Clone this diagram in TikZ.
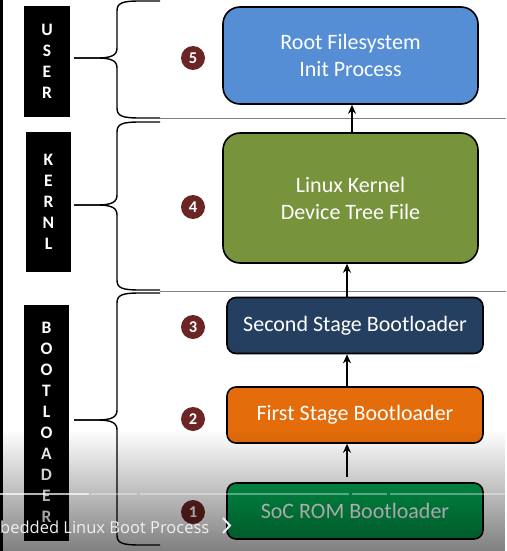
\documentclass[tikz,border=0pt]{standalone}
\usepackage{fontspec}
\setmainfont{Carlito}
\newfontfamily\captionfont{Open Sans}
\usetikzlibrary{arrows.meta,fadings}

\definecolor{userblue}{HTML}{558ED5}
\definecolor{kernelgreen}{HTML}{77933C}
\definecolor{secondnavy}{HTML}{243F60}
\definecolor{firstorange}{HTML}{E46C0A}
\definecolor{socgreen}{HTML}{00A650}
\definecolor{stepred}{HTML}{6B2525}
\definecolor{layergray}{HTML}{808080}

\tikzfading[name=fadeup, top color=transparent!100, bottom color=transparent!0]

\begin{document}
\begin{tikzpicture}[x=1pt, y=-1pt,
  stage/.style={draw=black, line width=1.6pt, text=white, align=center, font=\fontsize{22}{27}\selectfont},
  bigstage/.style={stage, rounded corners=17pt, minimum width=255pt},
  smallstage/.style={stage, rounded corners=9pt, minimum width=256pt, minimum height=56pt},
  layerbar/.style={fill=black, text=white, align=center, inner sep=0pt, font=\fontsize{17.5}{21}\selectfont\bfseries},
  stepnum/.style={circle, fill=stepred, text=white, inner sep=0pt, minimum size=24pt, font=\fontsize{16.5}{16.5}\selectfont\bfseries},
  flow/.style={-{Stealth[length=9pt,width=8pt]}, line width=1.8pt},
  bracket/.style={line width=1.4pt}]
\useasboundingbox (0,0) rectangle (506,551);
\fill[white] (0,0) rectangle (506,551);
\fill[black] (0,0) rectangle (2.5,551);

% layer labels
\node[layerbar, minimum width=46pt, minimum height=111pt] (user) at (47,61.5) {U\\S\\E\\R};
\node[layerbar, minimum width=45pt, minimum height=140pt] (kernl) at (48.5,202) {K\\E\\R\\N\\L};
\node[layerbar, minimum width=45pt, minimum height=236pt] (boot) at (46.5,422.5) {B\\O\\O\\T\\L\\O\\A\\D\\E\\R};

% braces
\draw[bracket] (74,58) -- (97,58) .. controls (112,58) and (117,55) .. (117,48) -- (117,11) .. controls (117,3) and (122,1) .. (140,1) -- (160,1);
\draw[bracket] (74,58) -- (97,58) .. controls (112,58) and (117,61) .. (117,68) -- (117,108) .. controls (117,116) and (122,118) .. (140,118) -- (160,118);

\draw[bracket] (74,205) -- (97,205) .. controls (112,205) and (117,202) .. (117,195) -- (117,132) .. controls (117,124) and (122,122) .. (140,122) -- (160,122);
\draw[bracket] (74,205) -- (97,205) .. controls (112,205) and (117,208) .. (117,215) -- (117,280) .. controls (117,288) and (122,290) .. (140,290) -- (160,290);

\draw[bracket] (74,420) -- (97,420) .. controls (112,420) and (117,417) .. (117,410) -- (117,303) .. controls (117,295) and (122,293) .. (140,293) -- (160,293);
\draw[bracket] (74,420) -- (97,420) .. controls (112,420) and (117,423) .. (117,430) -- (117,535) .. controls (117,543) and (122,545) .. (140,545) -- (160,545);

% layer separators
\draw[layergray, line width=1pt] (160,118) -- (506,118);
\draw[layergray, line width=1pt] (160,291) -- (506,291);

% steps
\node[stepnum] (num5) at (193,58) {5};
\node[stepnum] (num4) at (193,207) {4};
\node[stepnum] (num3) at (193,327) {3};
\node[stepnum] (num2) at (193,419) {2};
\node[stepnum] (num1) at (193,512) {1};

\node[bigstage, fill=userblue, minimum height=97pt] (rootfs) at (350.5,55.5) {Root Filesystem\\Init Process};
\node[bigstage, fill=kernelgreen, minimum height=130pt] (kernel) at (350.5,198) {Linux Kernel\\Device Tree File};
\node[smallstage, fill=secondnavy] (second) at (355,325.5) {Second Stage Bootloader};
\node[smallstage, fill=firstorange] (first) at (355,415) {First Stage Bootloader};
\node[smallstage, fill=socgreen] (soc) at (355,511) {SoC ROM Bootloader};

\draw[flow] ([xshift=1.5pt]kernel.north) -- ([xshift=1.5pt]rootfs.south);
\draw[flow] ([xshift=-8pt]second.north) -- ([xshift=-3.5pt]kernel.south);
\draw[flow] ([xshift=-8pt]first.north) -- ([xshift=-8pt]second.south);
\draw[flow] ([xshift=-8pt,yshift=5pt]soc.north) -- ([xshift=-8pt]first.south);

% video overlay
\fill[black, opacity=0.5, path fading=fadeup] (0,430) rectangle (506,551);
\draw[white, opacity=0.7, line width=1.5pt] (0,494) -- (89,494);
\draw[white, opacity=0.35, line width=1.5pt] (91,494) -- (137,494);
\draw[white, opacity=0.35, line width=1.5pt] (140,494) -- (349,494);
\draw[white, opacity=0.35, line width=1.5pt] (352,494) -- (387,494);
\draw[white, opacity=0.35, line width=1.5pt] (390,494) -- (506,494);
\node[anchor=base west, inner sep=0pt, text=white!88!gray, font=\captionfont\fontsize{16.5}{16.5}\selectfont] (caption) at (0,533) {bedded Linux Boot Process};
\draw[white!88!gray, line width=2pt] (223,518) -- (230,525.5) -- (223,533);
\end{tikzpicture}
\end{document}
